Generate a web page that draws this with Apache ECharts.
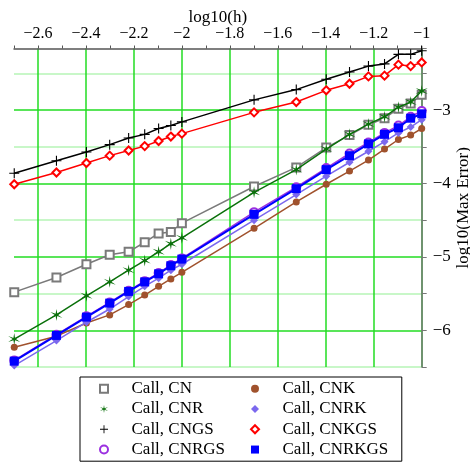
<!DOCTYPE html>
<html>
<head>
<meta charset="utf-8">
<style>
html,body{margin:0;padding:0;background:#fff;}
#chart{width:470px;height:465px;}
</style>
<script src="https://cdn.jsdelivr.net/npm/echarts@6/dist/echarts.min.js"></script>
</head>
<body>
<div id="chart"></div>
<script>
// log10(h) for h = 0.002..0.01 and 0.02..0.1
var logH = [-2.699, -2.523, -2.398, -2.301, -2.222, -2.155, -2.097, -2.046, -2,
            -1.699, -1.523, -1.398, -1.301, -1.222, -1.155, -1.097, -1.046, -1];

var seriesNames = ['Call, CN', 'Call, CNR', 'Call, CNGS', 'Call, CNRGS',
                   'Call, CNK', 'Call, CNRK', 'Call, CNKGS', 'Call, CNRKGS'];

var CN     = [-5.48, -5.28, -5.10, -4.97, -4.93, -4.80, -4.68, -4.66, -4.54, -4.04, -3.78, -3.51, -3.34, -3.20, -3.11, -2.98, -2.91, -2.79];
var CNR    = [-6.12, -5.79, -5.53, -5.34, -5.18, -5.05, -4.93, -4.82, -4.74, -4.12, -3.81, -3.53, -3.33, -3.19, -3.09, -2.96, -2.89, -2.74];
var CNGS   = [-3.86, -3.69, -3.57, -3.47, -3.38, -3.33, -3.25, -3.21, -3.16, -2.86, -2.72, -2.58, -2.48, -2.40, -2.37, -2.24, -2.24, -2.19];
var CNRGS  = [-6.41, -6.06, -5.81, -5.62, -5.46, -5.33, -5.22, -5.11, -5.02, -4.39, -4.05, -3.79, -3.59, -3.44, -3.31, -3.21, -3.09, -3.01];
var CNK    = [-6.23, -6.08, -5.90, -5.79, -5.65, -5.52, -5.40, -5.30, -5.21, -4.61, -4.25, -4.01, -3.83, -3.68, -3.53, -3.40, -3.34, -3.25];
var CNRK   = [-6.48, -6.14, -5.89, -5.71, -5.54, -5.40, -5.29, -5.18, -5.10, -4.50, -4.15, -3.90, -3.71, -3.56, -3.43, -3.31, -3.23, -3.13];
var CNKGS  = [-4.01, -3.85, -3.72, -3.62, -3.55, -3.49, -3.42, -3.36, -3.32, -3.03, -2.89, -2.73, -2.64, -2.54, -2.53, -2.38, -2.40, -2.35];
var CNRKGS = [-6.42, -6.07, -5.82, -5.63, -5.47, -5.34, -5.23, -5.12, -5.03, -4.42, -4.07, -3.81, -3.62, -3.46, -3.33, -3.24, -3.11, -3.05];

var allValues = [CN, CNR, CNGS, CNRGS, CNK, CNRK, CNKGS, CNRKGS];

var STAR = 'path://M50,0L56,40L93.3,25L62,50L93.3,75L56,60L50,100L44,60L6.7,75L38,50L6.7,25L44,40Z';
var PLUS = 'path://M4.45,0H5.55V4.45H10V5.55H5.55V10H4.45V5.55H0V4.45H4.45Z';

var styles = [
  {color: '#7a7a7a', symbol: 'emptyRect', size: 8, width: 1.5, empty: true},
  {color: '#0a700a', symbol: STAR, size: 12, width: 1.5, empty: false},
  {color: '#000000', symbol: PLUS, size: 10, width: 1.5, empty: false},
  {color: '#9b30e0', symbol: 'emptyCircle', size: 8, width: 1.5, empty: true},
  {color: '#a0522d', symbol: 'circle', size: 7, width: 1.5, empty: false},
  {color: '#7b68ee', symbol: 'diamond', size: 8, width: 1.5, empty: false},
  {color: '#ff0000', symbol: 'emptyDiamond', size: 8, width: 1.5, empty: true},
  {color: '#0000ff', symbol: 'rect', size: 9, width: 2, empty: false}
];

function pairs(vals) {
  return vals.map(function (v, i) { return [logH[i], v]; });
}

function fmtMinus(v) {
  var s = String(Math.round(v * 10) / 10);
  return s.replace('-', '\u2212');
}

var series = seriesNames.map(function (name, k) {
  var st = styles[k];
  return {
    name: name,
    type: 'line',
    data: pairs(allValues[k]),
    symbol: st.symbol,
    symbolSize: st.size,
    showAllSymbol: true,
    lineStyle: {color: st.color, width: st.width},
    itemStyle: {color: st.color, borderColor: st.color, borderWidth: st.empty ? 1.3 : 0},
    emphasis: {disabled: true},
    z: 2 + k
  };
});

var FONT = 'Liberation Serif';
var BRIGHT = '#22dd22';
var LIGHT = '#b6f5b6';

var option = {
  animation: false,
  backgroundColor: '#ffffff',
  textStyle: {fontFamily: FONT},
  grid: {left: 14, right: 48.3, top: 48.5, bottom: 98, containLabel: false, outerBoundsMode: 'none'},
  xAxis: {
    type: 'value',
    position: 'top',
    min: -2.7,
    max: -1,
    interval: 0.1,
    name: 'log10(h)',
    nameLocation: 'middle',
    nameMoveOverlap: false,
    nameGap: 22,
    nameTextStyle: {fontFamily: FONT, fontSize: 17, color: '#000'},
    axisLine: {show: true, onZero: false, lineStyle: {color: '#555', width: 1.5}},
    axisTick: {show: true, inside: false, length: 3, lineStyle: {color: '#555', width: 1}},
    axisLabel: {
      fontFamily: FONT, fontSize: 16, color: '#000', margin: 7,
      formatter: function (v) {
        return (Math.round(v * 10) % 2 === 0) ? fmtMinus(v) : '';
      }
    },
    splitLine: {show: true, lineStyle: {color: ['rgba(0,0,0,0)', BRIGHT], width: 1.5}}
  },
  yAxis: {
    type: 'value',
    position: 'right',
    min: -6.5,
    max: -2.16,
    interval: 0.5,
    name: 'log10(Max Error)',
    nameLocation: 'middle',
    nameMoveOverlap: false,
    nameRotate: 90,
    nameGap: 33,
    nameTextStyle: {fontFamily: FONT, fontSize: 17, color: '#000'},
    axisLine: {show: true, onZero: false, lineStyle: {color: '#777', width: 1.5}},
    axisTick: {show: true, inside: false, length: 5, lineStyle: {color: '#777', width: 1}},
    axisLabel: {
      fontFamily: FONT, fontSize: 17, color: '#000', margin: 11,
      formatter: function (v) {
        return (Math.abs(v - Math.round(v)) < 1e-6) ? fmtMinus(v) : '';
      }
    },
    splitLine: {show: true, showMaxLine: false, lineStyle: {color: [LIGHT, BRIGHT], width: 1.5}}
  },
  legend: {
    show: true,
    orient: 'horizontal',
    left: 80,
    top: 377,
    width: 310,
    padding: [1.5, 13.5, 1.5, 1.5],
    itemGap: 0,
    itemWidth: 45,
    itemHeight: 10,
    borderColor: '#000',
    borderWidth: 1,
    backgroundColor: '#fff',
    selectedMode: false,
    lineStyle: {color: 'rgba(0,0,0,0)', width: 0},
    textStyle: {fontFamily: FONT, fontSize: 17, color: '#000', width: 101, lineHeight: 20.3},
    data: ['Call, CN', 'Call, CNK', 'Call, CNR', 'Call, CNRK',
           'Call, CNGS', 'Call, CNKGS', 'Call, CNRGS', 'Call, CNRKGS']
  },
  series: series
};

var chart = echarts.init(document.getElementById('chart'), null, {renderer: 'canvas'});
chart.setOption(option);
</script>
</body>
</html>
